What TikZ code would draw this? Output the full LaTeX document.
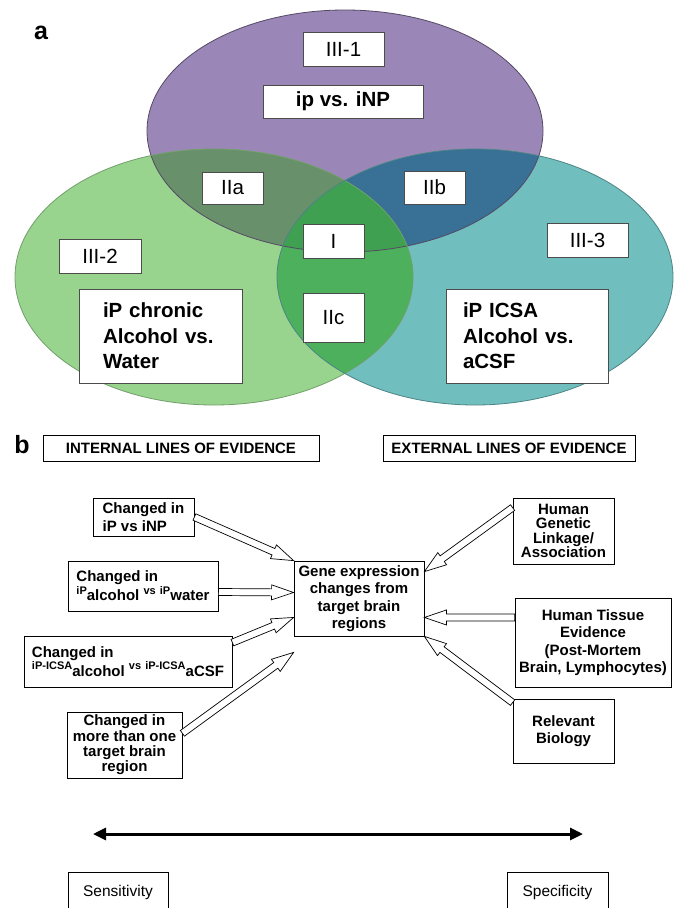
\documentclass[tikz,border=0pt]{standalone}
\usepackage{fontspec}
\setmainfont{Liberation Sans}
\usetikzlibrary{arrows.meta, calc}

\definecolor{vpurple}{RGB}{155,134,184}
\definecolor{vgreen}{RGB}{152,212,142}
\definecolor{vteal}{RGB}{112,190,190}
\definecolor{vpg}{RGB}{104,144,106}
\definecolor{vpt}{RGB}{56,112,150}
\definecolor{vgt}{RGB}{76,176,92}
\definecolor{vall}{RGB}{64,160,82}

% small raised label inside a line of bold text
\newcommand{\supx}[1]{\raisebox{0.45em}{\fontsize{11}{12}\selectfont #1}}

% open block arrow from #1 to #2
\newcommand{\hollowarrow}[2]{%
  \coordinate (ha-s) at #1;
  \coordinate (ha-t) at #2;
  \coordinate (ha-h) at ($(ha-t)!22pt!(ha-s)$);
  \draw[hollow] ($(ha-s)!3.5pt!90:(ha-t)$) -- ($(ha-h)!3.5pt!90:(ha-t)$)
    -- ($(ha-h)!7.5pt!90:(ha-t)$) -- (ha-t) -- ($(ha-h)!7.5pt!-90:(ha-t)$)
    -- ($(ha-h)!3.5pt!-90:(ha-t)$) -- ($(ha-s)!3.5pt!-90:(ha-t)$) -- cycle;}

\begin{document}
\begin{tikzpicture}[x=1pt, y=-1pt,
  prad/.style={x radius=198, y radius=121},
  grad/.style={x radius=199, y radius=128},
  trad/.style={x radius=198, y radius=128},
  venn/.style={draw=black!70, fill=white, line width=0.7pt, inner sep=0pt,
    font=\fontsize{20.5}{25.5}\selectfont},
  vennb/.style={venn, font=\bfseries\fontsize{20.5}{25.5}\selectfont},
  evid/.style={draw, fill=white, line width=0.8pt, inner sep=0pt, align=center,
    font=\bfseries\fontsize{15}{17.5}\selectfont},
  pole/.style={draw, fill=white, line width=0.8pt, inner sep=0pt,
    font=\fontsize{15.5}{18}\selectfont},
  tag/.style={font=\bfseries\fontsize{25}{30}\selectfont},
  hollow/.style={draw=black, fill=white, line width=0.7pt},
  spanline/.style={line width=3pt,
    {Triangle[length=13pt,width=12pt]}-{Triangle[length=13pt,width=12pt]}}
]
\useasboundingbox (0,0) rectangle (681,908);
\clip (0,0) rectangle (681,908);
\fill[white] (0,0) rectangle (681,908);

% --- panel a: three overlapping comparisons ---
\coordinate (pc) at (345,131);
\coordinate (gc) at (214,277);
\coordinate (tc) at (475,277);
\fill[vpurple] (pc) ellipse [prad];
\fill[vgreen] (gc) ellipse [grad];
\fill[vteal] (tc) ellipse [trad];
\begin{scope}
  \clip (pc) ellipse [prad];
  \fill[vpg] (gc) ellipse [grad];
  \fill[vpt] (tc) ellipse [trad];
\end{scope}
\begin{scope}
  \clip (gc) ellipse [grad];
  \fill[vgt] (tc) ellipse [trad];
  \clip (pc) ellipse [prad];
  \fill[vall] (tc) ellipse [trad];
\end{scope}
\draw[line width=0.8pt, vpurple!55!black] (pc) ellipse [prad];
\draw[line width=0.8pt, vgreen!75!black] (gc) ellipse [grad];
\draw[line width=0.8pt, vteal!70!black] (tc) ellipse [trad];

\node[tag] (taga) at (41,33) {a};

\node[venn, minimum width=81pt, minimum height=34pt] (r31) at (343.5,49) {III-1};
\node[vennb, minimum width=160pt, minimum height=33pt] (ipnpa) at (343,101.5) {ip vs. iNP};
\node[venn, minimum width=61pt, minimum height=32pt] (r2a) at (232.5,188) {IIa};
\node[venn, minimum width=61pt, minimum height=33pt] (r2b) at (434.5,187.5) {IIb};
\node[venn, minimum width=61pt, minimum height=34pt] (r1) at (333.5,241) {I};
\node[venn, minimum width=61pt, minimum height=49pt] (r2c) at (333.5,317.5) {IIc};
\node[venn, minimum width=82pt, minimum height=34pt] (r32) at (100,256) {III-2};
\node[venn, minimum width=81pt, minimum height=34pt] (r33) at (587.5,240) {III-3};
\node[vennb, align=left, text width=115pt, inner xsep=24pt, minimum height=94pt]
  (chronic) at (160.5,336) {iP chronic\\Alcohol vs.\\Water};
\node[vennb, align=left, text width=128pt, inner xsep=17pt, minimum height=94pt]
  (icsaa) at (527,336) {iP ICSA\\Alcohol vs.\\aCSF};

% --- panel b: lines of evidence ---
\node[tag] (tagb) at (22,445) {b};
\node[evid, minimum width=276pt, minimum height=26pt] (internal) at (181,448)
  {INTERNAL LINES OF EVIDENCE};
\node[evid, minimum width=252pt, minimum height=26pt] (external) at (509,448)
  {EXTERNAL LINES OF EVIDENCE};

\node[evid, align=left, minimum width=101pt, minimum height=38pt] (ipnp) at (143.5,517)
  {Changed in\\iP vs iNP};
\node[evid, align=left, minimum width=150pt, minimum height=50pt] (alc) at (143,586)
  {Changed in\\\supx{iP}alcohol \supx{vs} \supx{iP}water};
\node[evid, align=left, minimum width=208pt, minimum height=51pt] (icsa) at (128,661.5)
  {Changed in\\\supx{iP-ICSA}alcohol \supx{vs} \supx{iP-ICSA}aCSF};
\node[evid, minimum width=115pt, minimum height=66pt,
  font=\bfseries\fontsize{15}{15.3}\selectfont] (more) at (124.5,745)
  {Changed in\\more than one\\target brain\\region};
\node[evid, minimum width=130pt, minimum height=75pt] (gene) at (359,598.5)
  {Gene expression\\changes from\\target brain\\regions};
\node[evid, minimum width=101pt, minimum height=66pt,
  font=\bfseries\fontsize{15}{14.5}\selectfont] (genetic) at (563.5,531)
  {Human\\Genetic\\Linkage/\\Association};
\node[evid, minimum width=156pt, minimum height=89pt] (tissue) at (593,642.5)
  {Human Tissue\\Evidence\\(Post-Mortem\\Brain, Lymphocytes)};
\node[evid, minimum width=101pt, minimum height=64pt] (relevant) at (563.5,731)
  {Relevant\\Biology};

% internal lines point in
\hollowarrow{(ipnp.east)}{(gene.north west)}
\hollowarrow{($(alc.east)+(0,6)$)}{($(gene.west)+(0,-6)$)}
\hollowarrow{($(icsa.north east)+(0,7)$)}{($(gene.west)!0.5!(gene.south west)$)}
\hollowarrow{($(more.north east)!0.65!(more.east)$)}{($(gene.south west)+(0,16)$)}
% external lines point in
\hollowarrow{($(genetic.north west)+(0,10)$)}{($(gene.north east)+(0,11)$)}
\hollowarrow{($(tissue.west)+(0,-25)$)}{($(gene.east)!0.5!(gene.south east)$)}
\hollowarrow{($(relevant.north west)+(0,4)$)}{(gene.south east)}

% sensitivity <-> specificity
\coordinate (lo) at (93,834);
\coordinate (hi) at (583,834);
\draw[spanline] (lo) -- (hi);
\node[pole, minimum width=100pt, minimum height=40pt] (sens) at (118,892) {Sensitivity};
\node[pole, minimum width=101pt, minimum height=40pt] (spec) at (557.5,892) {Specificity};

\end{tikzpicture}
\end{document}
